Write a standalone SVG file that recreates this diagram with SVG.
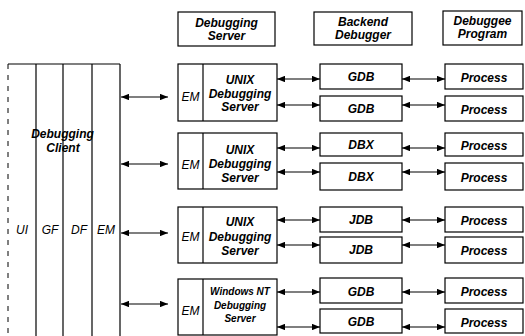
<svg xmlns="http://www.w3.org/2000/svg" width="525" height="336" viewBox="0 0 525 336">
<style>
.box{fill:#fff;stroke:#000;stroke-width:1.2}
.ln{stroke:#000;stroke-width:1.2;fill:none}
.t{font-family:"Liberation Sans",Arial,sans-serif;font-size:12px;font-style:italic;font-weight:bold;text-anchor:middle;fill:#000}
.r{font-weight:normal}
.s{font-size:10px}
.c{stroke:#000;stroke-width:1.2;fill:none;marker-start:url(#ah);marker-end:url(#ah)}
</style>
<defs>
<marker id="ah" viewBox="0 0 10 8" refX="10" refY="4" markerWidth="8" markerHeight="6.4" markerUnits="userSpaceOnUse" orient="auto-start-reverse">
<path d="M0,0 L10,4 L0,8 Z" fill="#000"/>
</marker>
</defs>
<rect width="525" height="336" fill="#fff"/>

<g id="headers">
<g id="h-server"><rect class="box" x="178" y="12" width="97" height="34"/><text class="t" x="226.5" y="27">Debugging</text><text class="t" x="226.5" y="40">Server</text></g>
<g id="h-backend"><rect class="box" x="314" y="12" width="98" height="33"/><text class="t" x="363" y="26">Backend</text><text class="t" x="363" y="39">Debugger</text></g>
<g id="h-program"><rect class="box" x="443" y="11" width="79" height="34"/><text class="t" x="482.5" y="25">Debuggee</text><text class="t" x="482.5" y="38">Program</text></g>
</g>

<g id="client">
<line class="ln" x1="8" y1="64" x2="120" y2="64"/>
<line x1="8" y1="64" x2="8" y2="336" stroke="#000" stroke-width="1" stroke-dasharray="5 6"/>
<line class="ln" x1="36" y1="64" x2="36" y2="336"/>
<line class="ln" x1="63" y1="64" x2="63" y2="336"/>
<line class="ln" x1="92" y1="64" x2="92" y2="336"/>
<line class="ln" x1="120" y1="64" x2="120" y2="336" stroke-width="1.5"/>
<text class="t" x="62.5" y="138">Debugging</text>
<text class="t" x="63" y="152">Client</text>
<text class="t r" x="22" y="234">UI</text>
<text class="t r" x="50" y="234">GF</text>
<text class="t r" x="79" y="234">DF</text>
<text class="t r" x="106" y="234">EM</text>
</g>

<g id="server1"><rect class="box" x="178" y="64" width="99" height="57"/><line class="ln" x1="203" y1="64" x2="203" y2="121"/>
<text class="t r" x="190.5" y="101">EM</text><text class="t" x="240" y="84">UNIX</text><text class="t" x="240" y="98">Debugging</text><text class="t" x="240" y="111">Server</text></g>
<g id="server2"><rect class="box" x="178" y="133" width="99" height="56"/><line class="ln" x1="203" y1="133" x2="203" y2="189"/>
<text class="t r" x="190.5" y="169">EM</text><text class="t" x="240" y="154">UNIX</text><text class="t" x="240" y="168">Debugging</text><text class="t" x="240" y="182">Server</text></g>
<g id="server3"><rect class="box" x="178" y="207" width="99" height="56"/><line class="ln" x1="203" y1="207" x2="203" y2="263"/>
<text class="t r" x="190.5" y="241">EM</text><text class="t" x="240" y="226">UNIX</text><text class="t" x="240" y="241">Debugging</text><text class="t" x="240" y="255">Server</text></g>
<g id="server4"><rect class="box" x="178" y="279" width="99" height="56"/><line class="ln" x1="203" y1="279" x2="203" y2="335"/>
<text class="t r" x="190.5" y="315">EM</text><text class="t s" x="240" y="295">Windows NT</text><text class="t s" x="240" y="309">Debugging</text><text class="t s" x="240" y="322">Server</text></g>

<g id="backend">
<g id="b1"><rect class="box" x="320" y="64" width="82" height="25"/><text class="t" x="361" y="81">GDB</text></g>
<g id="b2"><rect class="box" x="320" y="96" width="82" height="25"/><text class="t" x="361" y="113">GDB</text></g>
<g id="b3"><rect class="box" x="320" y="133" width="82" height="23"/><text class="t" x="361" y="149">DBX</text></g>
<g id="b4"><rect class="box" x="320" y="163" width="82" height="27"/><text class="t" x="361" y="181">DBX</text></g>
<g id="b5"><rect class="box" x="320" y="207" width="82" height="25"/><text class="t" x="361" y="224">JDB</text></g>
<g id="b6"><rect class="box" x="320" y="237" width="82" height="26"/><text class="t" x="361" y="254">JDB</text></g>
<g id="b7"><rect class="box" x="320" y="278" width="82" height="25"/><text class="t" x="361" y="296">GDB</text></g>
<g id="b8"><rect class="box" x="320" y="309" width="82" height="24"/><text class="t" x="361" y="326">GDB</text></g>
</g>

<g id="processes">
<g id="p1"><rect class="box" x="445" y="64" width="78" height="25"/><text class="t" x="484" y="82">Process</text></g>
<g id="p2"><rect class="box" x="445" y="96" width="78" height="25"/><text class="t" x="484" y="114">Process</text></g>
<g id="p3"><rect class="box" x="445" y="133" width="78" height="23"/><text class="t" x="484" y="150">Process</text></g>
<g id="p4"><rect class="box" x="445" y="163" width="78" height="27"/><text class="t" x="484" y="182">Process</text></g>
<g id="p5"><rect class="box" x="445" y="207" width="78" height="25"/><text class="t" x="484" y="225">Process</text></g>
<g id="p6"><rect class="box" x="445" y="237" width="78" height="26"/><text class="t" x="484" y="255">Process</text></g>
<g id="p7"><rect class="box" x="445" y="278" width="78" height="25"/><text class="t" x="484" y="296">Process</text></g>
<g id="p8"><rect class="box" x="445" y="309" width="78" height="24"/><text class="t" x="484" y="327">Process</text></g>
</g>

<g id="connectors">
<line class="c" x1="121" y1="97" x2="168" y2="97"/>
<line class="c" x1="121" y1="164" x2="168" y2="164"/>
<line class="c" x1="121" y1="233" x2="168" y2="233"/>
<line class="c" x1="121" y1="304" x2="168" y2="304"/>
<line class="c" x1="277" y1="79" x2="320" y2="79"/>
<line class="c" x1="277" y1="105" x2="320" y2="105"/>
<line class="c" x1="277" y1="148" x2="320" y2="148"/>
<line class="c" x1="277" y1="172" x2="320" y2="172"/>
<line class="c" x1="277" y1="220" x2="320" y2="220"/>
<line class="c" x1="277" y1="245" x2="320" y2="245"/>
<line class="c" x1="277" y1="292" x2="320" y2="292"/>
<line class="c" x1="277" y1="327" x2="320" y2="327"/>
<line class="c" x1="402" y1="79" x2="445" y2="79"/>
<line class="c" x1="402" y1="105" x2="445" y2="105"/>
<line class="c" x1="402" y1="148" x2="445" y2="148"/>
<line class="c" x1="402" y1="172" x2="445" y2="172"/>
<line class="c" x1="402" y1="220" x2="445" y2="220"/>
<line class="c" x1="402" y1="245" x2="445" y2="245"/>
<line class="c" x1="402" y1="292" x2="445" y2="292"/>
<line class="c" x1="402" y1="327" x2="445" y2="327"/>
</g>
</svg>
